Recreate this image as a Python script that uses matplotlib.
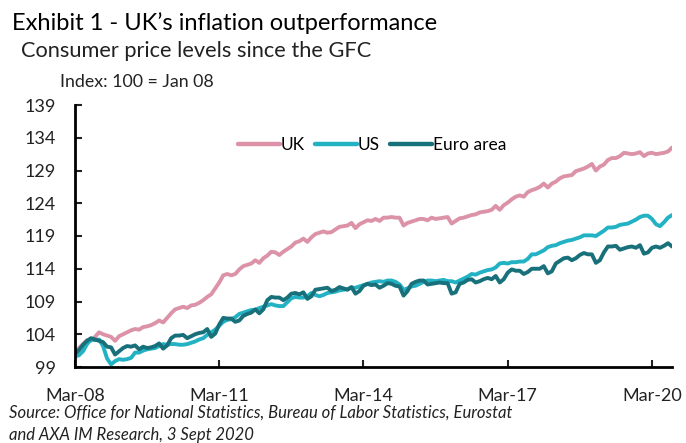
# coding: utf-8

import matplotlib
matplotlib.use('Agg')
import matplotlib.pyplot as plt

# monthly index levels, Mar-08 .. Aug-20 (Index: 100 = Jan 08)
uk = [
    101.2, 101.9, 102.5, 103.1, 103.0, 103.6, 104.3, 104.0, 103.8, 103.6,
    103.0, 103.7, 104.0, 104.3, 104.6, 104.8, 104.7, 105.1, 105.2, 105.4, 105.7, 106.1,
    105.8, 106.5, 107.2, 107.8, 108.0, 108.2, 108.0, 108.4, 108.5, 108.8, 109.2, 109.7,
    110.1, 111.0, 111.9, 113.0, 113.2, 113.0, 113.2, 113.9, 114.4, 114.6, 114.8, 115.3,
    114.9, 115.6, 116.0, 116.6, 116.5, 116.1, 116.6, 117.0, 117.4, 118.0, 118.2, 118.6,
    118.1, 118.8, 119.3, 119.5, 119.7, 119.5, 119.6, 120.0, 120.4, 120.5, 120.6, 121.0,
    120.2, 120.8, 121.1, 121.4, 121.3, 121.6, 121.3, 121.8, 121.8, 121.9, 121.8, 121.8,
    120.6, 121.0, 121.2, 121.4, 121.6, 121.6, 121.4, 121.8, 121.6, 121.7, 121.8, 121.9,
    120.9, 121.3, 121.7, 121.8, 122.0, 122.2, 122.3, 122.6, 122.7, 122.8, 123.0, 123.6,
    123.0, 123.7, 124.1, 124.6, 125.0, 125.2, 125.0, 125.7, 126.0, 126.2, 126.5, 127.0,
    126.4, 127.0, 127.3, 127.8, 128.1, 128.2, 128.3, 128.9, 129.1, 129.3, 129.6, 130.0,
    129.0, 129.6, 129.9, 130.6, 130.9, 130.9, 131.2, 131.7, 131.6, 131.5, 131.6, 131.8,
    131.2, 131.6, 131.7, 131.5, 131.6, 131.7, 131.9, 132.5,
]
us = [
    100.6, 100.8, 101.4, 102.5, 103.2, 103.1, 103.2, 102.2, 100.3, 99.4,
    99.9, 100.2, 100.1, 100.2, 100.4, 101.2, 101.2, 101.5, 101.7, 101.8, 101.9, 102.2,
    102.5, 102.4, 102.5, 102.5, 102.4, 102.4, 102.5, 102.7, 102.9, 103.2, 103.4, 103.9,
    104.3, 104.7, 105.3, 105.9, 106.2, 106.3, 106.6, 107.1, 107.3, 107.5, 107.7, 107.7,
    108.0, 108.2, 108.4, 108.6, 108.4, 108.3, 108.3, 108.9, 109.5, 109.7, 109.6, 109.6,
    109.8, 110.3, 110.0, 109.8, 110.0, 110.3, 110.4, 110.5, 110.7, 110.8, 110.9, 111.1,
    111.1, 111.3, 111.5, 111.7, 111.9, 112.0, 112.1, 112.0, 112.2, 112.2, 112.0, 111.6,
    110.8, 111.0, 111.3, 111.4, 111.7, 112.0, 112.2, 112.2, 112.1, 112.2, 112.3, 112.1,
    112.1, 111.9, 112.2, 112.5, 112.8, 113.2, 113.1, 113.4, 113.6, 113.8, 113.9, 114.2,
    114.8, 114.9, 114.8, 115.0, 115.0, 115.1, 115.1, 115.5, 116.2, 116.2, 116.5, 116.8,
    117.3, 117.5, 117.6, 117.9, 118.1, 118.3, 118.4, 118.6, 118.8, 119.1, 119.1, 119.1,
    119.0, 119.4, 119.8, 120.3, 120.3, 120.4, 120.7, 120.8, 120.9, 121.2, 121.5, 121.9,
    122.1, 122.1, 121.6, 120.8, 120.5, 121.1, 121.8, 122.2,
]
euro = [
    101.0, 101.6, 102.4, 103.0, 103.4, 103.2, 103.0, 102.8, 102.1, 102.0,
    100.9, 101.4, 101.9, 102.2, 102.1, 102.3, 101.7, 102.1, 101.9, 102.0, 102.2, 102.6,
    101.8, 102.3, 103.4, 103.8, 103.8, 103.9, 103.4, 103.7, 104.0, 104.2, 104.3, 104.8,
    103.6, 104.1, 105.5, 106.5, 106.4, 106.4, 105.9, 106.1, 106.8, 107.1, 107.3, 107.8,
    107.2, 107.8, 109.2, 109.7, 109.6, 109.6, 109.2, 109.6, 110.2, 110.3, 110.1, 110.4,
    109.4, 109.8, 110.8, 110.9, 111.0, 111.1, 110.6, 110.8, 111.2, 111.0, 110.8, 111.2,
    110.2, 110.6, 111.4, 111.7, 111.5, 111.6, 111.1, 111.4, 111.8, 111.7, 111.4, 111.3,
    109.9, 110.6, 111.7, 112.0, 112.2, 112.2, 111.6, 111.7, 111.8, 111.9, 111.8, 111.8,
    110.2, 110.4, 111.7, 111.9, 112.3, 112.4, 111.9, 112.1, 112.4, 112.6, 112.4, 112.9,
    111.9, 112.4, 113.4, 113.9, 113.7, 113.7, 113.2, 113.5, 114.0, 114.0, 114.0, 114.4,
    113.3, 113.6, 114.8, 115.2, 115.6, 115.7, 115.3, 115.6, 116.1, 116.4, 116.2, 116.2,
    114.9, 115.3, 116.5, 117.4, 117.4, 117.5, 116.9, 117.1, 117.3, 117.4, 117.2, 117.6,
    116.3, 116.5, 117.2, 117.4, 117.2, 117.5, 117.9, 117.4,
]
series = [('UK', uk, '#dc93a8'), ('US', us, '#22b2c4'), ('Euro area', euro, '#17707a')]

tick_pos = [0, 36, 72, 108, 144]
tick_labels = ['Mar-08', 'Mar-11', 'Mar-14', 'Mar-17', 'Mar-20']
y_ticks = list(range(99, 140, 5))

FONT = ['Lato', 'DejaVu Sans']


def plot_chart():
    plt.rcParams['font.family'] = FONT
    fig = plt.figure(figsize=(6.86, 4.43), dpi=100)
    ax = fig.add_axes([75 / 686, 76 / 443, 597 / 686, 262 / 443])

    for name, values, color in series:
        ax.plot(range(len(values)), values, color=color, lw=2.8,
                label=name, solid_capstyle='round', solid_joinstyle='round')

    ax.set_xlim(0, len(uk) - 1)
    ax.set_ylim(99, 139)
    ax.set_yticks(y_ticks)
    ax.set_xticks(tick_pos)
    ax.set_xticklabels(tick_labels)
    ax.tick_params(direction='in', length=5, width=1.5, labelsize=13,
                   colors='#222222')
    ax.tick_params(axis='x', pad=15)
    ax.tick_params(axis='y', pad=14)
    for side in ['top', 'right']:
        ax.spines[side].set_visible(False)
    for side in ['left', 'bottom']:
        ax.spines[side].set_linewidth(2)
        ax.spines[side].set_color('black')

    leg = ax.legend(loc='center', bbox_to_anchor=(372 / 686, 1 - 145 / 443),
                    bbox_transform=fig.transFigure, ncol=3, frameon=False,
                    fontsize=12.5, handlelength=2.4, handletextpad=0.05,
                    columnspacing=0.6, borderpad=0)
    for line in leg.get_lines():
        line.set_linewidth(3.2)

    fig.text(12 / 686, 1 - 23 / 443, 'Exhibit 1 - UK\u2019s inflation outperformance',
             fontsize=17, va='center', ha='left', color='black')
    fig.text(21 / 686, 1 - 51 / 443, 'Consumer price levels since the GFC',
             fontsize=15.7, va='center', ha='left', color='#222222')
    fig.text(60 / 686, 1 - 82 / 443, 'Index: 100 = Jan 08',
             fontsize=12.8, va='center', ha='left', color='#222222')
    fig.text(9 / 686, 1 - 413 / 443,
             'Source: Office for National Statistics, Bureau of Labor Statistics, Eurostat',
             fontsize=12, style='italic', va='center', ha='left', color='#222222')
    fig.text(9 / 686, 1 - 435 / 443, 'and AXA IM Research, 3 Sept 2020',
             fontsize=12, style='italic', va='center', ha='left', color='#222222')

    fig.savefig('out.png', dpi=100)


if __name__ == '__main__':
    plot_chart()
